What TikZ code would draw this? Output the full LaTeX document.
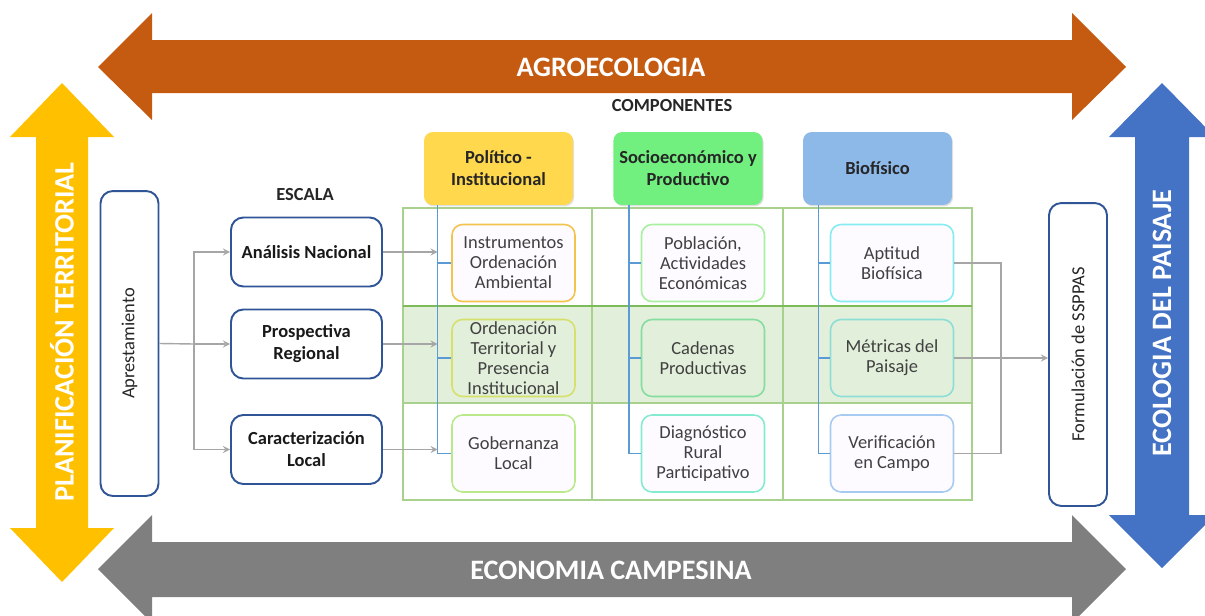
\documentclass[tikz,border=0pt]{standalone}
\usepackage{fontspec}
\setmainfont{Carlito}
\usetikzlibrary{arrows, shadows}
\definecolor{agro}{HTML}{C55A11}
\definecolor{plan}{HTML}{FFC000}
\definecolor{ecol}{HTML}{4472C4}
\definecolor{econ}{HTML}{7F7F7F}
\definecolor{azul}{HTML}{2F5597}
\definecolor{linea}{HTML}{A6A6A6}
\definecolor{espina}{HTML}{5B9BD5}
\definecolor{verde}{HTML}{A9D18E}
\definecolor{verdeosc}{HTML}{7DBB5A}
\definecolor{fila}{HTML}{E2EFDA}
\definecolor{blanco}{HTML}{FDFBFF}
\definecolor{texto}{HTML}{404040}
\definecolor{politico}{HTML}{FFD84D}
\definecolor{socio}{HTML}{72F07F}
\definecolor{biof}{HTML}{8DB9E9}
\definecolor{t1}{HTML}{F4C34E}
\definecolor{t2}{HTML}{D6E06A}
\definecolor{t3}{HTML}{B9E98A}
\definecolor{t4}{HTML}{A8F0A0}
\definecolor{t5}{HTML}{86DDA0}
\definecolor{t6}{HTML}{84EBD0}
\definecolor{t7}{HTML}{86ECEF}
\definecolor{t8}{HTML}{8EDED8}
\definecolor{t9}{HTML}{A7CBF0}
\tikzset{
  >=stealth,
  x=0.02cm, y=-0.02cm,
  rotulo/.style={text=white, font=\fontsize{16}{19}\selectfont\bfseries},
  titulo/.style={text=black!85, font=\fontsize{10.5}{12.5}\selectfont\bfseries},
  escala/.style={draw=azul, line width=1.1pt, rounded corners=7pt, fill=white,
    align=center, text=black!90, font=\fontsize{10.5}{12.5}\selectfont\bfseries,
    minimum width=3.02cm, minimum height=1.38cm},
  etapa/.style={draw=azul, line width=1.1pt, rounded corners=7pt, fill=white,
    text=black!85, font=\fontsize{10.5}{12.5}\selectfont, minimum width=1.16cm},
  comp/.style={rounded corners=5pt, align=center, text=black!85,
    font=\fontsize{10.5}{12.5}\selectfont\bfseries,
    minimum width=2.98cm, minimum height=1.46cm,
    drop shadow={shadow xshift=0.6pt, shadow yshift=-0.8pt, opacity=0.25}},
  tema/.style={draw=#1, line width=0.9pt, rounded corners=6pt, fill=blanco,
    align=center, text=texto, font=\fontsize{10.5}{11.4}\selectfont,
    minimum width=2.46cm, minimum height=1.54cm, inner sep=1pt},
  conn/.style={draw=linea, line width=0.8pt},
  rama/.style={draw=espina, line width=0.8pt},
}

\begin{document}
\begin{tikzpicture}
  \useasboundingbox (0,0) rectangle (1205,616);

  % flechas del marco
  \fill[agro] (98,67) -- (152,13) -- (152,40) -- (1072,40) -- (1072,13) -- (1126,67)
    -- (1072,120) -- (1072,93) -- (152,93) -- (152,120) -- cycle;
  \fill[econ] (98,569) -- (152,515) -- (152,542) -- (1072,542) -- (1072,515) -- (1126,569)
    -- (1072,623) -- (1072,597) -- (152,597) -- (152,623) -- cycle;
  \fill[plan] (62,83) -- (114,137) -- (88,137) -- (88,528) -- (114,528) -- (62,582)
    -- (10,528) -- (36,528) -- (36,137) -- (10,137) -- cycle;
  \fill[ecol] (1162,83) -- (1215,137) -- (1189,137) -- (1189,515) -- (1215,515) -- (1162,568)
    -- (1109,515) -- (1135,515) -- (1135,137) -- (1109,137) -- cycle;

  \node[rotulo] (agroecologia) at (611,67) {AGROECOLOGIA};
  \node[rotulo] (campesina) at (611,570) {ECONOMIA CAMPESINA};
  \node[rotulo, rotate=90] (planificacion) at (62,332) {PLANIFICACIÓN TERRITORIAL};
  \node[rotulo, rotate=90] (paisaje) at (1162,323) {ECOLOGIA DEL PAISAJE};

  % tabla de componentes
  \fill[fila] (403,306) rectangle (972,403);
  \draw[verde, line width=0.6pt] (403,208) rectangle (972,500)
    (592,208) -- (592,500) (783,208) -- (783,500) (403,403) -- (972,403);
  \draw[verdeosc, line width=0.8pt] (403,306) -- (972,306);

  \node[titulo] (escalas) at (305,195) {ESCALA};
  \node[titulo] (componentes) at (672,106) {COMPONENTES};

  \node[etapa, minimum height=6.1cm] (apr) at (129.5,343.5) {\rotatebox{90}{Aprestamiento}};
  \node[escala] (nac) at (306.5,252) {Análisis Nacional};
  \node[escala] (reg) at (306.5,344) {Prospectiva\\Regional};
  \node[escala] (loc) at (306.5,449.5) {Caracterización\\Local};

  \node[comp, fill=politico] (pol) at (498.5,168.5) {Político -\\Institucional};
  \node[comp, fill=socio] (soc) at (688,168.5) {Socioeconómico y\\Productivo};
  \node[comp, fill=biof] (bio) at (877.5,168.5) {Biofísico};

  \node[tema=t1] (ins) at (513.5,263) {Instrumentos\\Ordenación\\Ambiental};
  \node[tema=t2, fill=none] (ord) at (513.5,358) {Ordenación\\Territorial y\\Presencia\\Institucional};
  \node[tema=t3] (gob) at (513.5,453.5) {Gobernanza\\Local};
  \node[tema=t4] (pob) at (703,263) {Población,\\Actividades\\Económicas};
  \node[tema=t5, fill=none] (cad) at (703,358) {Cadenas\\Productivas};
  \node[tema=t6] (dia) at (703,453.5) {Diagnóstico\\Rural\\Participativo};
  \node[tema=t7] (apt) at (892,263) {Aptitud\\Biofísica};
  \node[tema=t8, fill=none] (met) at (892,358) {Métricas del\\Paisaje};
  \node[tema=t9] (ver) at (892,453.5) {Verificación\\en Campo};

  \node[etapa, minimum height=6.06cm] (ssppas) at (1078,354.5) {\rotatebox{90}{Formulación de SSPPAS}};

  % ramas de cada componente
  \coordinate (e1) at ([xshift=0.28cm]pol.south west);
  \coordinate (e2) at ([xshift=0.32cm]soc.south west);
  \coordinate (e3) at ([xshift=0.32cm]bio.south west);
  \draw[rama] (e1) |- (gob.west) (e1 |- ins.west) -- (ins.west) (e1 |- ord.west) -- (ord.west);
  \draw[rama] (e2) |- (dia.west) (e2 |- pob.west) -- (pob.west) (e2 |- cad.west) -- (cad.west);
  \draw[rama] (e3) |- (ver.west) (e3 |- apt.west) -- (apt.west) (e3 |- met.west) -- (met.west);

  % conectores
  \coordinate (rep) at (194,344);
  \draw[conn] (apr.east) -- (rep);
  \draw[conn, ->] (rep) |- (nac.west);
  \draw[conn, ->] (rep) -- (reg.west);
  \draw[conn, ->] (rep) |- (loc.west);
  \draw[conn, ->] (nac.east) -- (nac.east -| e1);
  \draw[conn, ->] (reg.east) -- (reg.east -| e1);
  \draw[conn, ->] (loc.east) -- (loc.east -| e1);

  \coordinate (une) at (1001,356);
  \draw[conn] (apt.east) -| (une) |- (ver.east);
  \draw[conn, ->] (met.east) -- (met.east -| ssppas.west);
\end{tikzpicture}
\end{document}
